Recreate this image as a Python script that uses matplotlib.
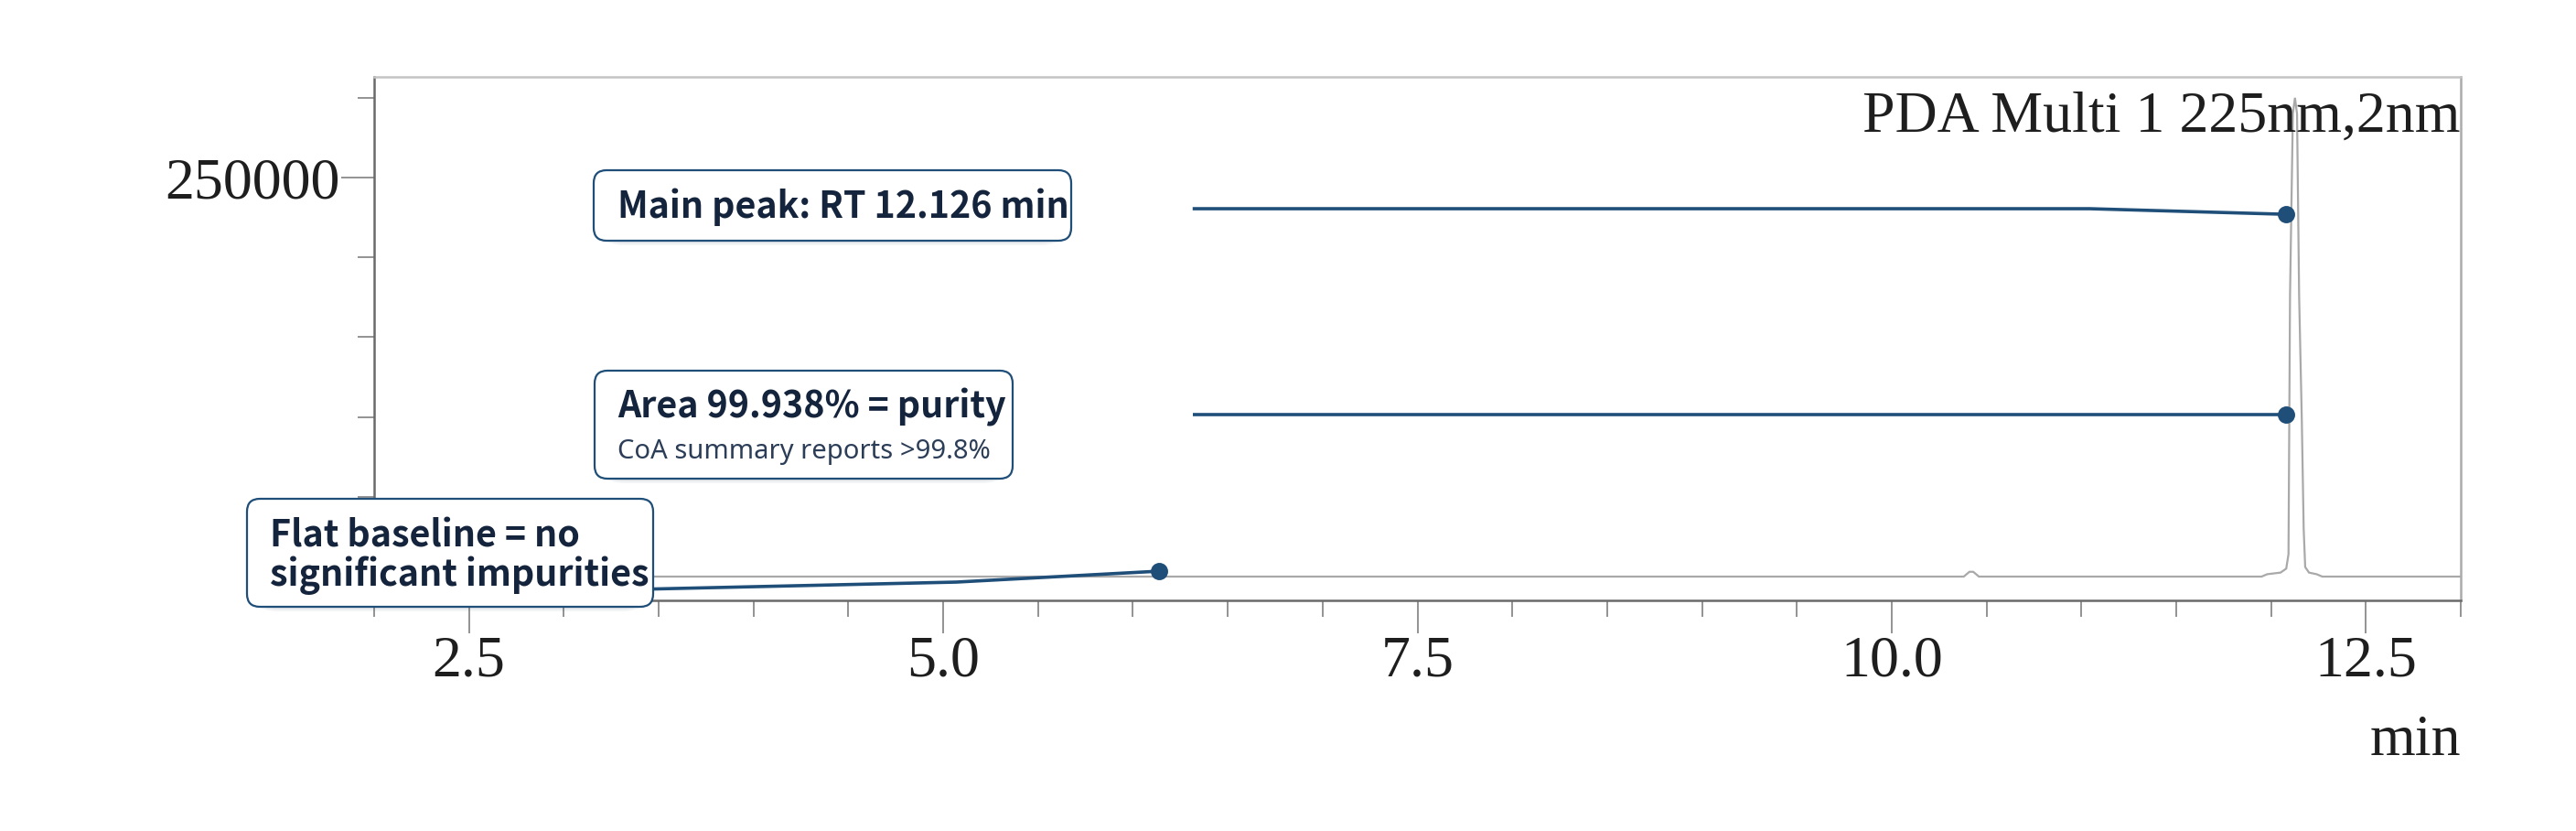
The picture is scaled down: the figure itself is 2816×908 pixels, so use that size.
import matplotlib
matplotlib.use("Agg")
import matplotlib.pyplot as plt
from matplotlib.patches import FancyBboxPatch
from matplotlib.ticker import FixedLocator, MultipleLocator, FixedFormatter

# chromatogram trace (time in min, detector signal)
rt_min = [2.0, 10.38, 10.41, 10.43, 10.46, 11.95, 11.98, 12.05, 12.08, 12.092,
          12.100, 12.115, 12.126, 12.137, 12.148, 12.162, 12.172, 12.180,
          12.20, 12.24, 12.27, 13.0]
signal = [0, 0, 3000, 3000, 0, 0, 1500, 2500, 5000, 14000,
          176000, 290000, 300000, 290000, 176000, 99000, 30000, 6000,
          2500, 1500, 0, 0]

# callout points and their leader paths
dot_x = [12.077, 12.077, 6.137]
dot_y = [227000, 101500, 3400]
lead_x = [[6.315, 11.045, 12.077], [6.315, 12.077], [3.2, 5.07, 6.137]]
lead_y = [[230500, 230500, 227000], [101500, 101500], [-8500, -3440, 3400]]

x_major = [2.5, 5.0, 7.5, 10.0, 12.5]
x_labels = ["2.5", "5.0", "7.5", "10.0", "12.5"]
y_major = [250000]
y_labels = ["250000"]

NAVY = "#1f4e79"; INK = "#14243d"; SUB = "#2b3d57"; TRACE = "#a9a9a9"
SERIF = ["Liberation Serif", "DejaVu Serif"]
SANS = ["Noto Sans", "DejaVu Sans"]
BOLD = ["Noto Sans CJK SC", "Noto Sans", "DejaVu Sans"]

W, H = 2816, 908
fig = plt.figure(figsize=(W / 200, H / 200), dpi=200)
fig.patch.set_facecolor("white")
ax = fig.add_axes([409 / W, 1 - 656 / H, (2690 - 409) / W, (656 - 84) / H])

ax.plot(rt_min, signal, color=TRACE, lw=0.8, zorder=2, solid_joinstyle="miter")
ax.set_xlim(2.0, 13.0)
ax.set_ylim(-14900, 313100)

ax.xaxis.set_major_locator(FixedLocator(x_major))
ax.xaxis.set_major_formatter(FixedFormatter(x_labels))
ax.xaxis.set_minor_locator(MultipleLocator(0.5))
ax.yaxis.set_major_locator(FixedLocator(y_major))
ax.yaxis.set_major_formatter(FixedFormatter(y_labels))
ax.yaxis.set_minor_locator(MultipleLocator(50000))
ax.tick_params(which="major", length=13, width=0.6, color="#808080", direction="out")
ax.tick_params(which="minor", length=6.5, width=0.6, color="#808080", direction="out")
ax.tick_params(axis="x", which="major", pad=1)
ax.tick_params(axis="y", which="major", pad=0.5)
for lab in ax.get_xticklabels() + ax.get_yticklabels():
    lab.set_family(SERIF); lab.set_fontsize(23); lab.set_color("#1e1e1e")

for s, c in (("left", "#6a6a6a"), ("bottom", "#6a6a6a"), ("top", "#c4c4c4"), ("right", "#ababab")):
    ax.spines[s].set_color(c); ax.spines[s].set_linewidth(0.9)

ax.text(1.0, 0.895, "PDA Multi 1 225nm,2nm", transform=ax.transAxes, ha="right",
        va="baseline", family=SERIF, fontsize=23, color="#1e1e1e", zorder=3)
fig.text(2690 / W, 1 - 825 / H, "min", ha="right", va="baseline",
         family=SERIF, fontsize=23, color="#1e1e1e")

# leaders + dots
for lx, ly in zip(lead_x, lead_y):
    ax.plot(lx, ly, color=NAVY, lw=1.3, zorder=4, solid_capstyle="butt", clip_on=False)
ax.plot(dot_x, dot_y, "o", color=NAVY, ms=5.8, zorder=5, clip_on=False)


# callout boxes (pixel layout of the reference)
def box(x0, y0, x1, y1):
    for off, a in ((5, 0.05), (3, 0.06)):
        fig.patches.append(FancyBboxPatch(
            (x0 / W, 1 - (y1 + off) / H), (x1 - x0) / W, (y1 - y0) / H,
            boxstyle="round,pad=0,rounding_size=0.012", transform=fig.transFigure,
            facecolor="#1f3550", edgecolor="none", alpha=a, zorder=6, mutation_aspect=W / H))
    fig.patches.append(FancyBboxPatch(
        (x0 / W, 1 - y1 / H), (x1 - x0) / W, (y1 - y0) / H,
        boxstyle="round,pad=0,rounding_size=0.005", transform=fig.transFigure,
        facecolor="white", edgecolor=NAVY, lw=0.8, zorder=7, mutation_aspect=W / H))


def label(x, y, s, size, weight, color, fam):
    fig.text(x / W, 1 - y / H, s, ha="left", va="baseline", family=fam,
             fontsize=size, fontweight=weight, color=color, zorder=8)


box(649, 186, 1171, 263)
label(675, 238, "Main peak: RT 12.126 min", 14.2, "bold", INK, BOLD)

box(650, 405, 1107, 523)
label(675, 456, "Area 99.938% = purity", 14.2, "bold", INK, BOLD)
label(675, 501, "CoA summary reports >99.8%", 10.5, "normal", SUB, SANS)

box(270, 545, 714, 663)
label(295, 597, "Flat baseline = no", 14.2, "bold", INK, BOLD)
label(295, 640, "significant impurities", 14.2, "bold", INK, BOLD)

fig.savefig("out.png", dpi=200, facecolor="white")
